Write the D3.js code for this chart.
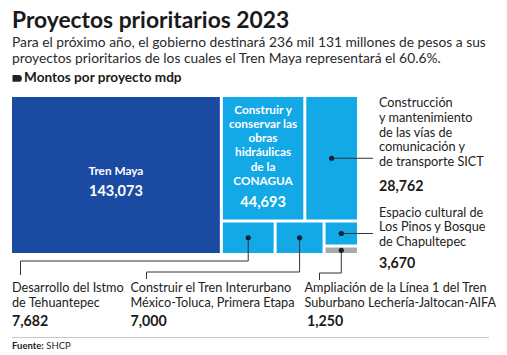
<!DOCTYPE html>
<html><head><meta charset="utf-8">
<script src="https://cdn.jsdelivr.net/npm/d3@7"></script>
<style>
html,body{margin:0;padding:0;background:#fff;}
svg{display:block;font-family:Lato,"Noto Sans",sans-serif;}
</style></head>
<body>
<script>
// ---- data ----
const projectNames = ["Tren Maya","CONAGUA","SICT","Istmo","Interurbano","Pinos","AIFA"];
const amounts = [143073, 44693, 28762, 7682, 7000, 3670, 1250];
// layout grouping path (treemap nesting)
const groupPaths = ["", "resto/arriba", "resto/arriba", "resto/abajo", "resto/abajo", "resto/abajo/chico", "resto/abajo/chico"];
const cellColors = ["#1b4aa3","#12a9e6","#12a9e6","#12a9e6","#12a9e6","#12a9e6","#aaaaaa"];
const insideLabels = [["Tren Maya"], ["Construir y","conservar las","obras","hidráulicas","de la","CONAGUA"], null, null, null, null, null];
const outsideLabels = [null, null,
  ["Construcción","y mantenimiento","de las vías de","comunicación y","de transporte SICT"],
  ["Desarrollo del Istmo","de Tehuantepec"],
  ["Construir el Tren Interurbano","México-Toluca, Primera Etapa"],
  ["Espacio cultural de","Los Pinos y Bosque","de Chapultepec"],
  ["Ampliación de la Línea 1 del Tren","Suburbano Lechería-Jaltocan-AIFA"]];
const titleText = "Proyectos prioritarios 2023";
const subtitleLines = ["Para el próximo año, el gobierno destinará 236 mil 131 millones de pesos a sus","proyectos prioritarios de los cuales el Tren Maya representará el 60.6%."];
const legendText = "Montos por proyecto mdp";
const sourceLabel = "Fuente:", sourceText = " SHCP";

// ---- build hierarchy ----
const root0 = {name:"root", children:[]};
function getNode(path){
  let node = root0;
  if(!path) return node;
  path.split("/").forEach(p=>{
    let c = node.children.find(d=>d.name===p);
    if(!c){ c={name:p, children:[]}; node.children.push(c); }
    node = c;
  });
  return node;
}
projectNames.forEach((n,i)=>{ getNode(groupPaths[i]).children.push({name:n, idx:i, value:amounts[i]}); });

const W=507,H=355;
const svg = d3.select("body").append("svg").attr("width",W).attr("height",H);
const fmt = d3.format(",");

// header
svg.append("text").attr("x",12).attr("y",27.5).attr("font-size",22.8).attr("font-weight",700).attr("fill","#1a1a1a").text(titleText);
svg.selectAll("text.sub").data(subtitleLines).join("text").attr("class","sub")
  .attr("x",12).attr("y",(d,i)=>46.5+i*16.5).attr("font-size",13.8).attr("fill","#2a2a2a").text(d=>d);
svg.append("path").attr("d","M12.5,75 h6 a3.4,3.4 0 0 1 0,6.8 h-6 z").attr("fill","#222");
svg.append("text").attr("x",24).attr("y",81.5).attr("font-size",13.6).attr("font-weight",700).attr("fill","#1a1a1a").text(legendText);

// treemap
const X0=12, Y0=97, TW=345, TH=156;
const root = d3.hierarchy(root0).sum(d=>d.value||0);
d3.treemap().tile(d3.treemapSliceDice).size([TW,TH]).paddingInner(3).round(false)(root);
const g = svg.append("g").attr("transform",`translate(${X0},${Y0})`);
const leaves = root.leaves();
g.selectAll("rect").data(leaves).join("rect")
  .attr("x",d=>d.x0).attr("y",d=>d.y0).attr("width",d=>d.x1-d.x0).attr("height",d=>d.y1-d.y0)
  .attr("fill",d=>cellColors[d.data.idx]);

// inside labels
leaves.filter(d=>insideLabels[d.data.idx]).forEach(d=>{
  const lines = insideLabels[d.data.idx];
  const cx=(d.x0+d.x1)/2;
  const isBig = d.data.idx===0;
  const startY = isBig ? 77.5 : 16.5;
  lines.forEach((l,i)=>{
    g.append("text").attr("x",cx).attr("y",startY+i*14.3).attr("text-anchor","middle")
      .attr("font-size",11.8).attr("font-weight",700).attr("fill","#fff").text(l);
  });
  g.append("text").attr("x",cx).attr("y",startY+(lines.length-1)*14.3+21.5).attr("text-anchor","middle")
    .attr("font-size",14.5).attr("font-weight",700).attr("fill","#fff").text(fmt(amounts[d.data.idx]));
});

// callouts
const byIdx = {}; leaves.forEach(d=>byIdx[d.data.idx]=d);
const cen = i=>{const d=byIdx[i]; return [X0+(d.x0+d.x1)/2, Y0+(d.y0+d.y1)/2];};
const callouts = [
  {i:2, pts:c=>[c,[373,c[1]]]},
  {i:5, pts:c=>[c,[373,c[1]]]},
  {i:3, pts:c=>[c,[c[0],261],[20.5,261],[20.5,275]]},
  {i:4, pts:c=>[c,[c[0],272],[146.5,272],[146.5,279]]},
  {i:6, pts:c=>[c,[c[0],273],[319.5,273],[319.5,280]]}
];
const line = d3.line();
callouts.forEach(o=>{
  const c = cen(o.i);
  svg.append("path").attr("d",line(o.pts(c))).attr("fill","none").attr("stroke","#333").attr("stroke-width",1);
  svg.append("circle").attr("cx",c[0]).attr("cy",c[1]).attr("r",2.6).attr("fill","#14203a");
});

// outside labels
const outPos = {2:[379,107.3,191], 5:[379,216.8,268], 3:[12,292,326], 4:[130.5,292,326], 6:[304.5,292,326]};
Object.keys(outPos).forEach(k=>{
  const i=+k, [x,y,ny]=outPos[k];
  outsideLabels[i].forEach((l,j)=>{
    svg.append("text").attr("x",x).attr("y",y+j*14.6).attr("font-size",12.7).attr("fill","#222").text(l);
  });
  svg.append("text").attr("x",i===6?x+2.5:x).attr("y",ny).attr("font-size",14.2).attr("font-weight",700).attr("fill","#1a1a1a").text(fmt(amounts[i]));
});

// footer
svg.append("line").attr("x1",12).attr("x2",489).attr("y1",337.5).attr("y2",337.5).attr("stroke","#c8c8c8").attr("stroke-width",1);
const ft = svg.append("text").attr("x",12).attr("y",349).attr("font-size",9.5).attr("fill","#222");
ft.append("tspan").attr("font-weight",700).text(sourceLabel);
ft.append("tspan").text(sourceText);
</script>
</body></html>
